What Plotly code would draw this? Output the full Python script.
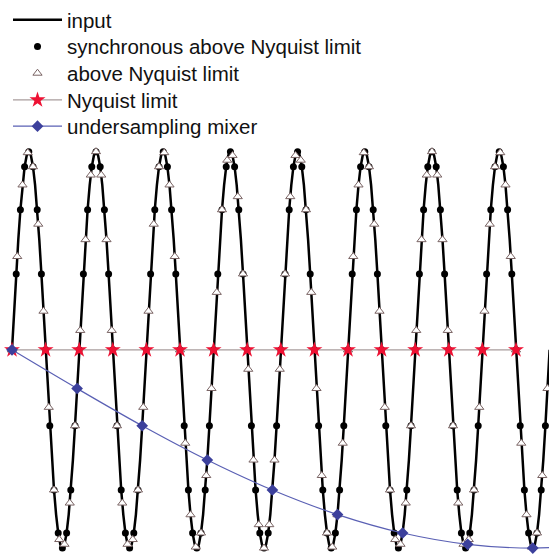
import plotly.graph_objects as go

# ---- data (time in input periods, value = normalised amplitude) ----
N_CYCLES = 8

# one input cycle, 32 points per period (repeats identically 8 times)
INPUT_CYCLE = [0, 0.195, 0.383, 0.556, 0.707, 0.831, 0.924, 0.981, 1.0, 0.981, 0.924, 0.831,
               0.707, 0.556, 0.383, 0.195, 0, -0.195, -0.383, -0.556, -0.707, -0.831, -0.924,
               -0.981, -1.0, -0.981, -0.924, -0.831, -0.707, -0.556, -0.383, -0.195]
INPUT_PER_CYCLE = 32

# synchronous samples: 16 per period
SYNC_CYCLE = [0, 0.383, 0.707, 0.924, 1.0, 0.924, 0.707, 0.383,
              0, -0.383, -0.707, -0.924, -1.0, -0.924, -0.707, -0.383]
SYNC_PER_CYCLE = 16

# above-Nyquist samples: 12.8 per period, pattern repeats every 5 periods (64 samples)
ABOVE_PATTERN = [0, 0.471, 0.832, 0.995, 0.924, 0.634, 0.195, -0.290, -0.707, -0.957, -0.981,
                 -0.773, -0.383, 0.098, 0.556, 0.882, 1.0, 0.882, 0.556, 0.098, -0.383, -0.773,
                 -0.981, -0.957, -0.707, -0.290, 0.195, 0.634, 0.924, 0.995, 0.832, 0.471, 0,
                 -0.471, -0.832, -0.995, -0.924, -0.634, -0.195, 0.290, 0.707, 0.957, 0.981,
                 0.773, 0.383, -0.098, -0.556, -0.882, -1.0, -0.882, -0.556, -0.098, 0.383,
                 0.773, 0.981, 0.957, 0.707, 0.290, -0.195, -0.634, -0.924, -0.995, -0.832, -0.471]
ABOVE_STEP = 5 / 64          # period fraction between samples
ABOVE_COUNT = 103

# Nyquist-limit samples: 2 per period, all on the zero crossings
NYQ_VALUES = [0] * 16
NYQ_STEP = 0.5

# undersampling mixer: one sample every 31/32 period
UNDER_VALUES = [0, -0.195, -0.383, -0.556, -0.707, -0.831, -0.924, -0.981, -1.0, -0.981]
UNDER_STEP = 31 / 32

LABELS = ["input", "synchronous above Nyquist limit", "above Nyquist limit",
          "Nyquist limit", "undersampling mixer"]

# ---- build series ----
input_y = INPUT_CYCLE * N_CYCLES + [0]
input_x = [i / INPUT_PER_CYCLE for i in range(len(input_y))]

sync_y = SYNC_CYCLE * N_CYCLES + [0]
sync_x = [i / SYNC_PER_CYCLE for i in range(len(sync_y))]

above_y = (ABOVE_PATTERN * 2)[:ABOVE_COUNT]
above_x = [i * ABOVE_STEP for i in range(ABOVE_COUNT)]

nyq_x = [i * NYQ_STEP for i in range(len(NYQ_VALUES))]
under_x = [i * UNDER_STEP for i in range(len(UNDER_VALUES))]

FONT = "Liberation Sans, Arial, sans-serif"

fig = go.Figure()
fig.add_trace(go.Scatter(x=input_x, y=input_y, mode="lines", name=LABELS[0],
                         line=dict(color="black", width=2.5), legend="legend"))
fig.add_trace(go.Scatter(x=sync_x, y=sync_y, mode="markers", name=LABELS[1],
                         marker=dict(color="black", size=7, symbol="circle"),
                         cliponaxis=False, legend="legend2"))
fig.add_trace(go.Scatter(x=above_x, y=above_y, mode="markers", name=LABELS[2],
                         marker=dict(color="white", size=8, symbol="triangle-up",
                                     line=dict(color="#7a6464", width=1)),
                         cliponaxis=False, legend="legend3"))
fig.add_trace(go.Scatter(x=nyq_x, y=NYQ_VALUES, mode="lines+markers", name=LABELS[3],
                         line=dict(color="#a89c9c", width=1.2),
                         marker=dict(color="#ee1133", size=12, symbol="star"),
                         legend="legend4"))
fig.add_trace(go.Scatter(x=under_x, y=UNDER_VALUES, mode="lines+markers", name=LABELS[4],
                         line=dict(color="#5a60b4", width=1.2, shape="spline"),
                         marker=dict(color="#3c409c", size=9, symbol="diamond"),
                         legend="legend5"))

W, H = 549, 554
leg_centers = [15, 42, 69, 96, 122.5]
leg_common = dict(x=8 / W, xanchor="left", yanchor="middle", bgcolor="rgba(0,0,0,0)",
                  font=dict(family=FONT, size=20.5, color="#111111"), itemwidth=49)
layout_legends = {}
for i, yc in enumerate(leg_centers):
    key = "legend" if i == 0 else f"legend{i + 1}"
    layout_legends[key] = dict(leg_common, y=1 - yc / H)

fig.update_layout(
    width=W, height=H,
    margin=dict(l=0, r=0, t=0, b=0),
    paper_bgcolor="white", plot_bgcolor="white",
    showlegend=True,
    xaxis=dict(visible=False, range=[-12 / 67.2, 537 / 67.2]),
    yaxis=dict(visible=False, range=[-1.03, 1.74]),
    **layout_legends,
)

fig.write_html("out.html")
